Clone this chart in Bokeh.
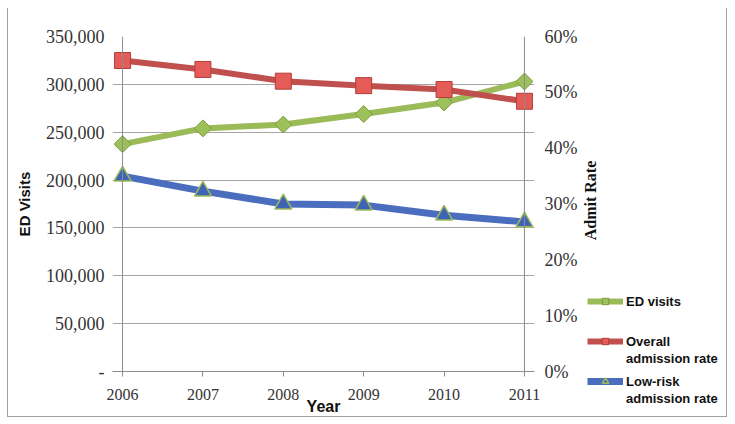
import math
from bokeh.plotting import figure
from bokeh.layouts import row
from bokeh.models import (Range1d, LinearAxis, FixedTicker, NumeralTickFormatter,
                          Legend, LegendItem, Span, Label)
from bokeh.embed import file_html
from bokeh.resources import INLINE

years = [2006, 2007, 2008, 2009, 2010, 2011]
ed_visits = [237500, 254000, 258000, 269000, 281000, 303000]
overall_rate = [0.557, 0.541, 0.520, 0.512, 0.505, 0.484]
lowrisk_rate = [0.350, 0.323, 0.300, 0.298, 0.280, 0.268]
left_ticks = [0, 50000, 100000, 150000, 200000, 250000, 300000, 350000]
left_labels = ["-", "50,000", "100,000", "150,000", "200,000", "250,000", "300,000", "350,000"]
right_ticks = [0.0, 0.1, 0.2, 0.3, 0.4, 0.5, 0.6]

GREEN = "#9BBB59"
RED = "#C0504D"
BLUE = "#4A6EBD"
GRID = "#A6A6A6"
AXIS = "#8C8C8C"
BORDER = "1px solid #A0A0A0"

# ---------------- main chart ----------------
p = figure(width=572, height=409, output_backend="svg", toolbar_location=None,
           x_range=Range1d(2005.875, 2011.125), y_range=Range1d(0, 350000),
           min_border_left=104, min_border_right=42, min_border_top=28, min_border_bottom=45)
p.frame_align = False
p.styles = {"border-left": BORDER, "border-bottom": BORDER}
p.extra_y_ranges = {"rate": Range1d(0, 0.6)}
p.outline_line_color = None
p.xgrid.grid_line_color = None
p.ygrid.grid_line_color = GRID
p.ygrid.ticker = FixedTicker(ticks=left_ticks)

ya = p.yaxis[0]
ya.ticker = FixedTicker(ticks=left_ticks)
ya.major_label_overrides = {t: l for t, l in zip(left_ticks, left_labels)}
ya.axis_label = "ED Visits"
ya.axis_label_text_font = "Liberation Sans"
ya.axis_label_text_font_style = "bold"
ya.axis_label_text_font_size = "15px"
ya.axis_label_text_color = "#111111"
ya.axis_label_standoff = 10
ya.major_label_text_font = "Liberation Serif"
ya.major_label_text_font_size = "18px"
ya.major_label_text_color = "#333333"
ya.axis_line_color = None
ya.major_tick_line_color = None
ya.minor_tick_line_color = None
ya.major_label_standoff = 2

ra = LinearAxis(y_range_name="rate", ticker=FixedTicker(ticks=right_ticks),
                formatter=NumeralTickFormatter(format="0%"))
ra.major_label_text_font = "Liberation Serif"
ra.major_label_text_font_size = "18px"
ra.major_label_text_color = "#333333"
ra.axis_line_color = None
ra.major_tick_line_color = None
ra.minor_tick_line_color = None
ra.major_label_standoff = 4
p.add_layout(ra, "right")

xa = p.xaxis[0]
xa.ticker = FixedTicker(ticks=years)
xa.axis_label = "Year"
xa.axis_label_text_font = "Liberation Sans"
xa.axis_label_text_font_style = "bold"
xa.axis_label_text_font_size = "16px"
xa.axis_label_text_color = "#111111"
xa.axis_label_standoff = -5
xa.major_label_text_font = "Liberation Serif"
xa.major_label_text_font_size = "16px"
xa.major_label_text_color = "#333333"
xa.axis_line_color = AXIS
xa.major_tick_line_color = AXIS
xa.major_tick_out = 5
xa.major_tick_in = 0
xa.minor_tick_line_color = None
xa.major_label_standoff = 12

p.add_layout(Span(location=years[0], dimension="height", line_color=AXIS, line_width=1))
p.add_layout(Span(location=years[-1], dimension="height", line_color=AXIS, line_width=1))

ED_LINE = dict(line_color=GREEN, line_width=6)
ED_MARK = dict(marker="square", angle=math.pi / 4, fill_color="#9CC05A",
               line_color="#7D9C41", line_width=1)
OV_LINE = dict(line_color=RED, line_width=6)
OV_MARK = dict(marker="square", fill_color="#E55B57", line_color="#B23E3A", line_width=1)
LR_LINE = dict(line_color=BLUE, line_width=7)
LR_MARK = dict(marker="triangle", fill_color="#3F64B5", line_color=GREEN, line_width=1.5)

p.line(years, ed_visits, **ED_LINE)
p.scatter(years, ed_visits, size=12, **ED_MARK)
p.line(years, overall_rate, y_range_name="rate", **OV_LINE)
p.scatter(years, overall_rate, y_range_name="rate", size=16, **OV_MARK)
p.line(years, lowrisk_rate, y_range_name="rate", **LR_LINE)
p.scatter(years, lowrisk_rate, y_range_name="rate", size=17, **LR_MARK)

# ---------------- side panel: axis title + legend ----------------
q = figure(width=148, height=409, output_backend="svg", toolbar_location=None,
           x_range=Range1d(0, 1), y_range=Range1d(0, 1),
           x_axis_location=None, y_axis_location=None, min_border=0)
q.frame_align = False
q.styles = {"border-right": BORDER, "border-bottom": BORDER}
q.outline_line_color = None
q.grid.grid_line_color = None

q.add_layout(Label(x=11, y=217, x_units="screen", y_units="screen", text="Admit Rate",
                   angle=math.pi / 2, text_align="center", text_baseline="middle",
                   text_font="Liberation Serif", text_font_style="bold",
                   text_font_size="16px", text_color="#111111"))

# legend-only renderers (hidden; they just provide the legend swatches)
e1 = q.line(years, ed_visits, visible=False, **ED_LINE)
e1m = q.scatter(years, ed_visits, size=8, visible=False, **ED_MARK)
o1 = q.line(years, overall_rate, visible=False, **OV_LINE)
o1m = q.scatter(years, overall_rate, size=8, visible=False, **OV_MARK)
r1 = q.line(years, lowrisk_rate, visible=False, **LR_LINE)
r1m = q.scatter(years, lowrisk_rate, size=8, visible=False, **LR_MARK)


def make_legend(items, bottom):
    lg = Legend(items=items, location=(8, bottom))
    lg.label_text_font = "Liberation Sans"
    lg.label_text_font_style = "bold"
    lg.label_text_font_size = "13px"
    lg.label_text_color = "#111111"
    lg.label_standoff = 3
    lg.label_height = 16
    lg.glyph_width = 36
    lg.glyph_height = 16
    lg.spacing = 1
    lg.padding = 0
    lg.margin = 0
    lg.border_line_color = None
    lg.background_fill_alpha = 0
    lg.inactive_fill_alpha = 0
    q.add_layout(lg, "center")


make_legend([LegendItem(label="ED visits", renderers=[e1, e1m])], 108)
make_legend([LegendItem(label="Overall", renderers=[o1, o1m]),
             LegendItem(label="admission rate", renderers=[])], 51)
make_legend([LegendItem(label="Low-risk", renderers=[r1, r1m]),
             LegendItem(label="admission rate", renderers=[])], 11)

layout = row(p, q)
layout.styles = {"margin-left": "7px", "margin-top": "8px"}

open("out.html", "w").write(file_html(layout, INLINE))
